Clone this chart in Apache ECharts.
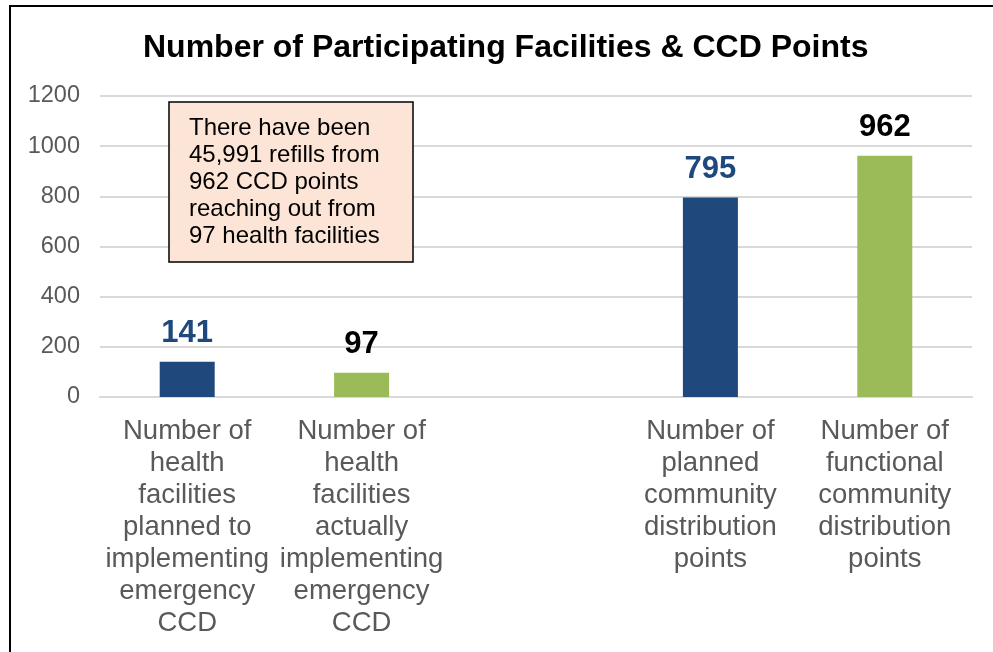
<!DOCTYPE html>
<html>
<head>
<meta charset="utf-8">
<script src="https://cdn.jsdelivr.net/npm/echarts@6/dist/echarts.min.js"></script>
<style>
html,body{margin:0;padding:0;background:#fff;}
#chart{width:993px;height:652px;}
</style>
</head>
<body>
<div id="chart"></div>
<script>
const categories = [
  "Number of\nhealth\nfacilities\nplanned to\nimplementing\nemergency\nCCD",
  "Number of\nhealth\nfacilities\nactually\nimplementing\nemergency\nCCD",
  "",
  "Number of\nplanned\ncommunity\ndistribution\npoints",
  "Number of\nfunctional\ncommunity\ndistribution\npoints"
];
const values = [141, 97, null, 795, 962];
const barColors = ["#1F497D", "#9BBB59", "#9BBB59", "#1F497D", "#9BBB59"];
const labelColors = ["#1F497D", "#000000", "#000000", "#1F497D", "#000000"];
const yTicks = { min: 0, max: 1200, interval: 200 };
const titleText = "Number of Participating Facilities & CCD Points";
const noteText = "There have been\n45,991 refills from\n962 CCD points\nreaching out from\n97 health facilities";

const FONT = '"Liberation Sans", Arial, sans-serif';
const chart = echarts.init(document.getElementById('chart'), null, { renderer: 'canvas' });

const option = {
  backgroundColor: '#ffffff',
  animation: false,
  title: {
    text: titleText,
    left: 143,
    top: 32,
    padding: 0,
    textStyle: { fontFamily: FONT, fontSize: 32, fontWeight: 'bold', color: '#000000' }
  },
  grid: { left: 100, right: 21, top: 96, bottom: 255, containLabel: false },
  xAxis: {
    type: 'category',
    data: categories,
    axisTick: { show: false },
    axisLine: { show: true, lineStyle: { color: '#D9D9D9', width: 2 } },
    axisLabel: {
      interval: 0,
      margin: 18,
      fontFamily: FONT,
      fontSize: 27.5,
      lineHeight: 32,
      color: '#595959',
      align: 'center'
    }
  },
  yAxis: {
    type: 'value',
    min: yTicks.min,
    max: yTicks.max,
    interval: yTicks.interval,
    axisLine: { show: false },
    axisTick: { show: false },
    splitLine: { lineStyle: { color: '#D9D9D9', width: 2 } },
    axisLabel: {
      margin: 20, fontFamily: FONT, fontSize: 23.5, color: '#595959',
      formatter: function (v) { return String(v); }
    }
  },
  series: [{
    type: 'bar',
    barWidth: 55,
    data: values.map((v, i) => ({
      value: v,
      itemStyle: { color: barColors[i] },
      label: { color: labelColors[i] }
    })),
    label: {
      show: true,
      position: 'top',
      distance: 13,
      fontFamily: FONT,
      fontSize: 31,
      fontWeight: 'bold'
    }
  }],
  graphic: [
    {
      type: 'polyline',
      shape: { points: [[10, 652], [10, 6], [993, 6]] },
      style: { stroke: '#000000', lineWidth: 2, fill: null },
      z: 100
    },
    {
      type: 'rect',
      shape: { x: 169, y: 102, width: 244, height: 160 },
      style: { fill: '#FCE4D6', stroke: '#000000', lineWidth: 1.5 },
      z: 50
    },
    {
      type: 'text',
      x: 189,
      y: 115,
      style: {
        text: noteText,
        fontFamily: FONT,
        fontSize: 24,
        lineHeight: 27,
        fill: '#000000',
        verticalAlign: 'top',
        align: 'left'
      },
      z: 51
    }
  ]
};
chart.setOption(option);
</script>
</body>
</html>
